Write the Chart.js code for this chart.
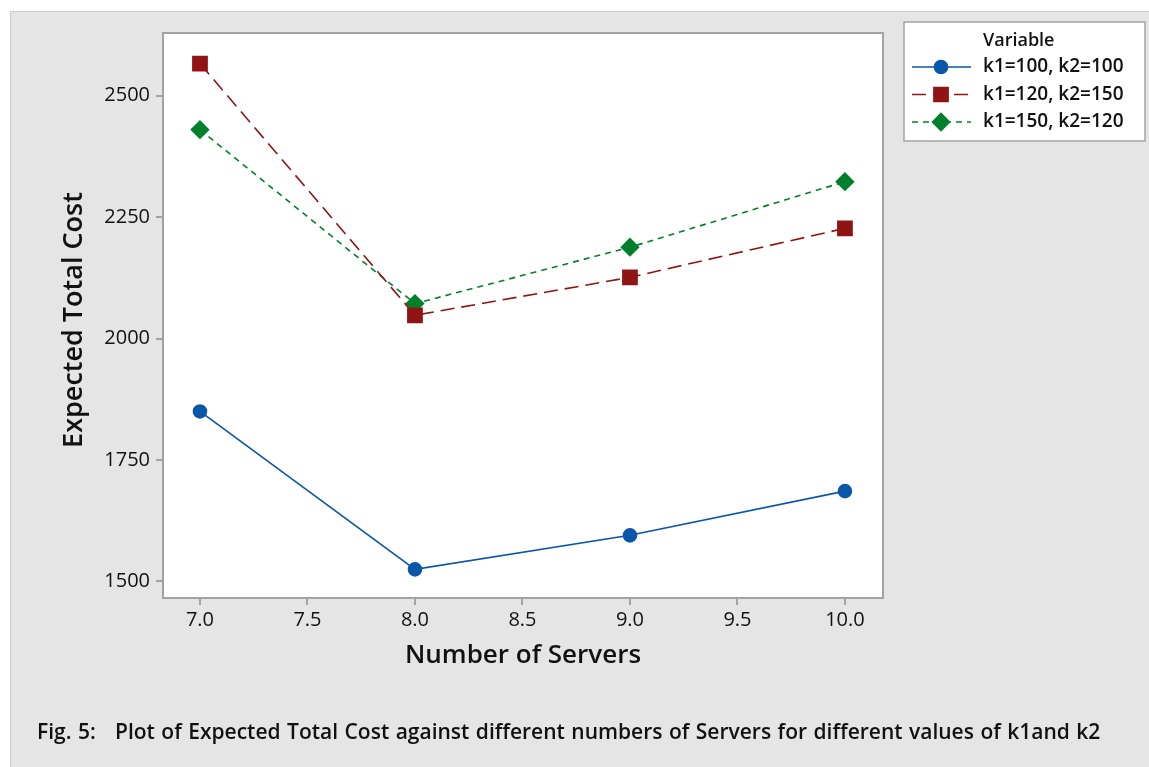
<!DOCTYPE html>
<html>
<head>
<meta charset="utf-8">
<script src="https://cdn.jsdelivr.net/npm/chart.js@4"></script>
<style>
  html, body { margin: 0; padding: 0; background: #fff; }
  #frame {
    position: absolute; left: 10px; top: 11px; width: 1139px; height: 756px;
    background: #e5e5e5; border-left: 1px solid #cdcdcd; border-top: 1px solid #cdcdcd;
  }
  #wrap { position: absolute; left: 0; top: 0; width: 1149px; height: 767px; }
  #caption {
    position: absolute; left: 37px; top: 716px; line-height: 30px;
    font-family: "Open Sans", "Noto Sans", sans-serif; font-weight: 600; font-size: 21px;
    word-spacing: 1px;
    color: #111; white-space: pre;
  }
</style>
</head>
<body>
<div id="frame"></div>
<div id="wrap"><canvas id="costChart" width="1149" height="767"></canvas></div>
<div id="caption">Fig. 5:   Plot of Expected Total Cost against different numbers of Servers for different values of k1and k2</div>
<script>
// data
const servers = [7, 8, 9, 10];
const costK100 = [1850, 1525, 1595, 1686];   // k1=100, k2=100
const costK120 = [2566, 2048, 2126, 2227];   // k1=120, k2=150
const costK150 = [2430, 2072, 2188, 2323];   // k1=150, k2=120
const seriesLabels = ['k1=100, k2=100', 'k1=120, k2=150', 'k1=150, k2=120'];
const xTicks = [7.0, 7.5, 8.0, 8.5, 9.0, 9.5, 10.0];
const yTicks = [1500, 1750, 2000, 2250, 2500];

const FONT = '"Open Sans", "Noto Sans", sans-serif';
const AREA = { left: 163, top: 33, right: 883, bottom: 598 };

function toPoints(values) {
    return servers.map((s, i) => ({ x: s, y: values[i] }));
}

// white plot area + frame
const plotFrame = {
    id: 'plotFrame',
    beforeDraw(chart) {
        const { ctx, chartArea: a } = chart;
        ctx.save();
        ctx.fillStyle = '#ffffff';
        ctx.fillRect(a.left, a.top, a.right - a.left, a.bottom - a.top);
        ctx.restore();
    },
    beforeDatasetsDraw(chart) {
        const { ctx, chartArea: a } = chart;
        ctx.save();
        ctx.strokeStyle = '#a3a3a3';
        ctx.lineWidth = 2;
        ctx.strokeRect(a.left, a.top, a.right - a.left, a.bottom - a.top);
        ctx.restore();
    }
};

// axis titles
const axisTitles = {
    id: 'axisTitles',
    afterDraw(chart) {
        const ctx = chart.ctx;
        ctx.save();
        ctx.fillStyle = '#111';
        ctx.textAlign = 'center';
        ctx.textBaseline = 'middle';
        ctx.font = '600 26px ' + FONT;
        ctx.fillText('Number of Servers', 523, 656);
        ctx.font = '600 27px ' + FONT;
        ctx.translate(74, 320);
        ctx.rotate(-Math.PI / 2);
        ctx.fillText('Expected Total Cost', 0, 0);
        ctx.restore();
    }
};

// boxed legend at the top right
const boxLegend = {
    id: 'boxLegend',
    afterDraw(chart) {
        const ctx = chart.ctx;
        ctx.save();
        ctx.fillStyle = '#fff';
        ctx.fillRect(904, 22, 241, 119);
        ctx.strokeStyle = '#a3a3a3';
        ctx.lineWidth = 1.5;
        ctx.strokeRect(904, 22, 241, 119);
        ctx.fillStyle = '#111';
        ctx.textBaseline = 'middle';
        ctx.textAlign = 'left';
        ctx.font = '600 18px ' + FONT;
        ctx.fillText('Variable', 983, 41);
        chart.data.datasets.forEach((ds, i) => {
            const y = 67 + i * 27.5;
            ctx.strokeStyle = ds.borderColor;
            ctx.lineWidth = ds.borderWidth;
            ctx.setLineDash(ds.borderDash || []);
            ctx.beginPath();
            ctx.moveTo(912, y);
            ctx.lineTo(971, y);
            ctx.stroke();
            ctx.setLineDash([]);
            ctx.fillStyle = ds.pointBackgroundColor;
            ctx.strokeStyle = ds.pointBackgroundColor;
            Chart.helpers.drawPoint(ctx, { pointStyle: ds.pointStyle, radius: ds.pointRadius, borderWidth: 1 }, 941, y);
            ctx.fillStyle = '#111';
            ctx.font = '600 19px ' + FONT;
            ctx.fillText(ds.label, 983, y);
        });
        ctx.restore();
    }
};

new Chart(document.getElementById('costChart').getContext('2d'), {
    type: 'line',
    data: {
        datasets: [{
            label: seriesLabels[0],
            data: toPoints(costK100),
            borderColor: '#0a56a8',
            pointBackgroundColor: '#0a56a8',
            pointBorderColor: '#0a56a8',
            borderWidth: 1.6,
            pointStyle: 'circle',
            pointRadius: 6.5
        }, {
            label: seriesLabels[1],
            data: toPoints(costK120),
            borderColor: '#911414',
            pointBackgroundColor: '#911414',
            pointBorderColor: '#911414',
            borderWidth: 1.6,
            borderDash: [14, 7],
            pointStyle: 'rect',
            pointRadius: 10
        }, {
            label: seriesLabels[2],
            data: toPoints(costK150),
            borderColor: '#00802a',
            pointBackgroundColor: '#00802a',
            pointBorderColor: '#00802a',
            borderWidth: 1.6,
            borderDash: [6, 5],
            pointStyle: 'rectRot',
            pointRadius: 8.5
        }]
    },
    options: {
        responsive: false,
        animation: false,
        layout: { padding: { left: 0, top: AREA.top, right: 1149 - AREA.right, bottom: 767 - AREA.bottom - 80 } },
        plugins: { legend: { display: false }, tooltip: { enabled: false } },
        scales: {
            x: {
                type: 'linear',
                min: 6.828,
                max: 10.177,
                afterBuildTicks: s => { s.ticks = xTicks.map(v => ({ value: v })); },
                afterFit: s => { s.height = 80; },
                grid: { drawOnChartArea: false, tickLength: 7, color: '#a3a3a3', lineWidth: 2 },
                border: { display: false },
                ticks: {
                    font: { family: FONT, size: 20 },
                    color: '#111',
                    padding: 3,
                    callback: v => v.toFixed(1)
                }
            },
            y: {
                min: 1466,
                max: 2629,
                afterBuildTicks: s => { s.ticks = yTicks.map(v => ({ value: v })); },
                afterFit: s => { s.width = AREA.left; },
                grid: { drawOnChartArea: false, tickLength: 7, color: '#a3a3a3', lineWidth: 2 },
                border: { display: false },
                ticks: {
                    font: { family: FONT, size: 20 },
                    color: '#111',
                    padding: 6,
                    callback: v => String(v)
                }
            }
        }
    },
    plugins: [plotFrame, axisTitles, boxLegend]
});
</script>
</body>
</html>
